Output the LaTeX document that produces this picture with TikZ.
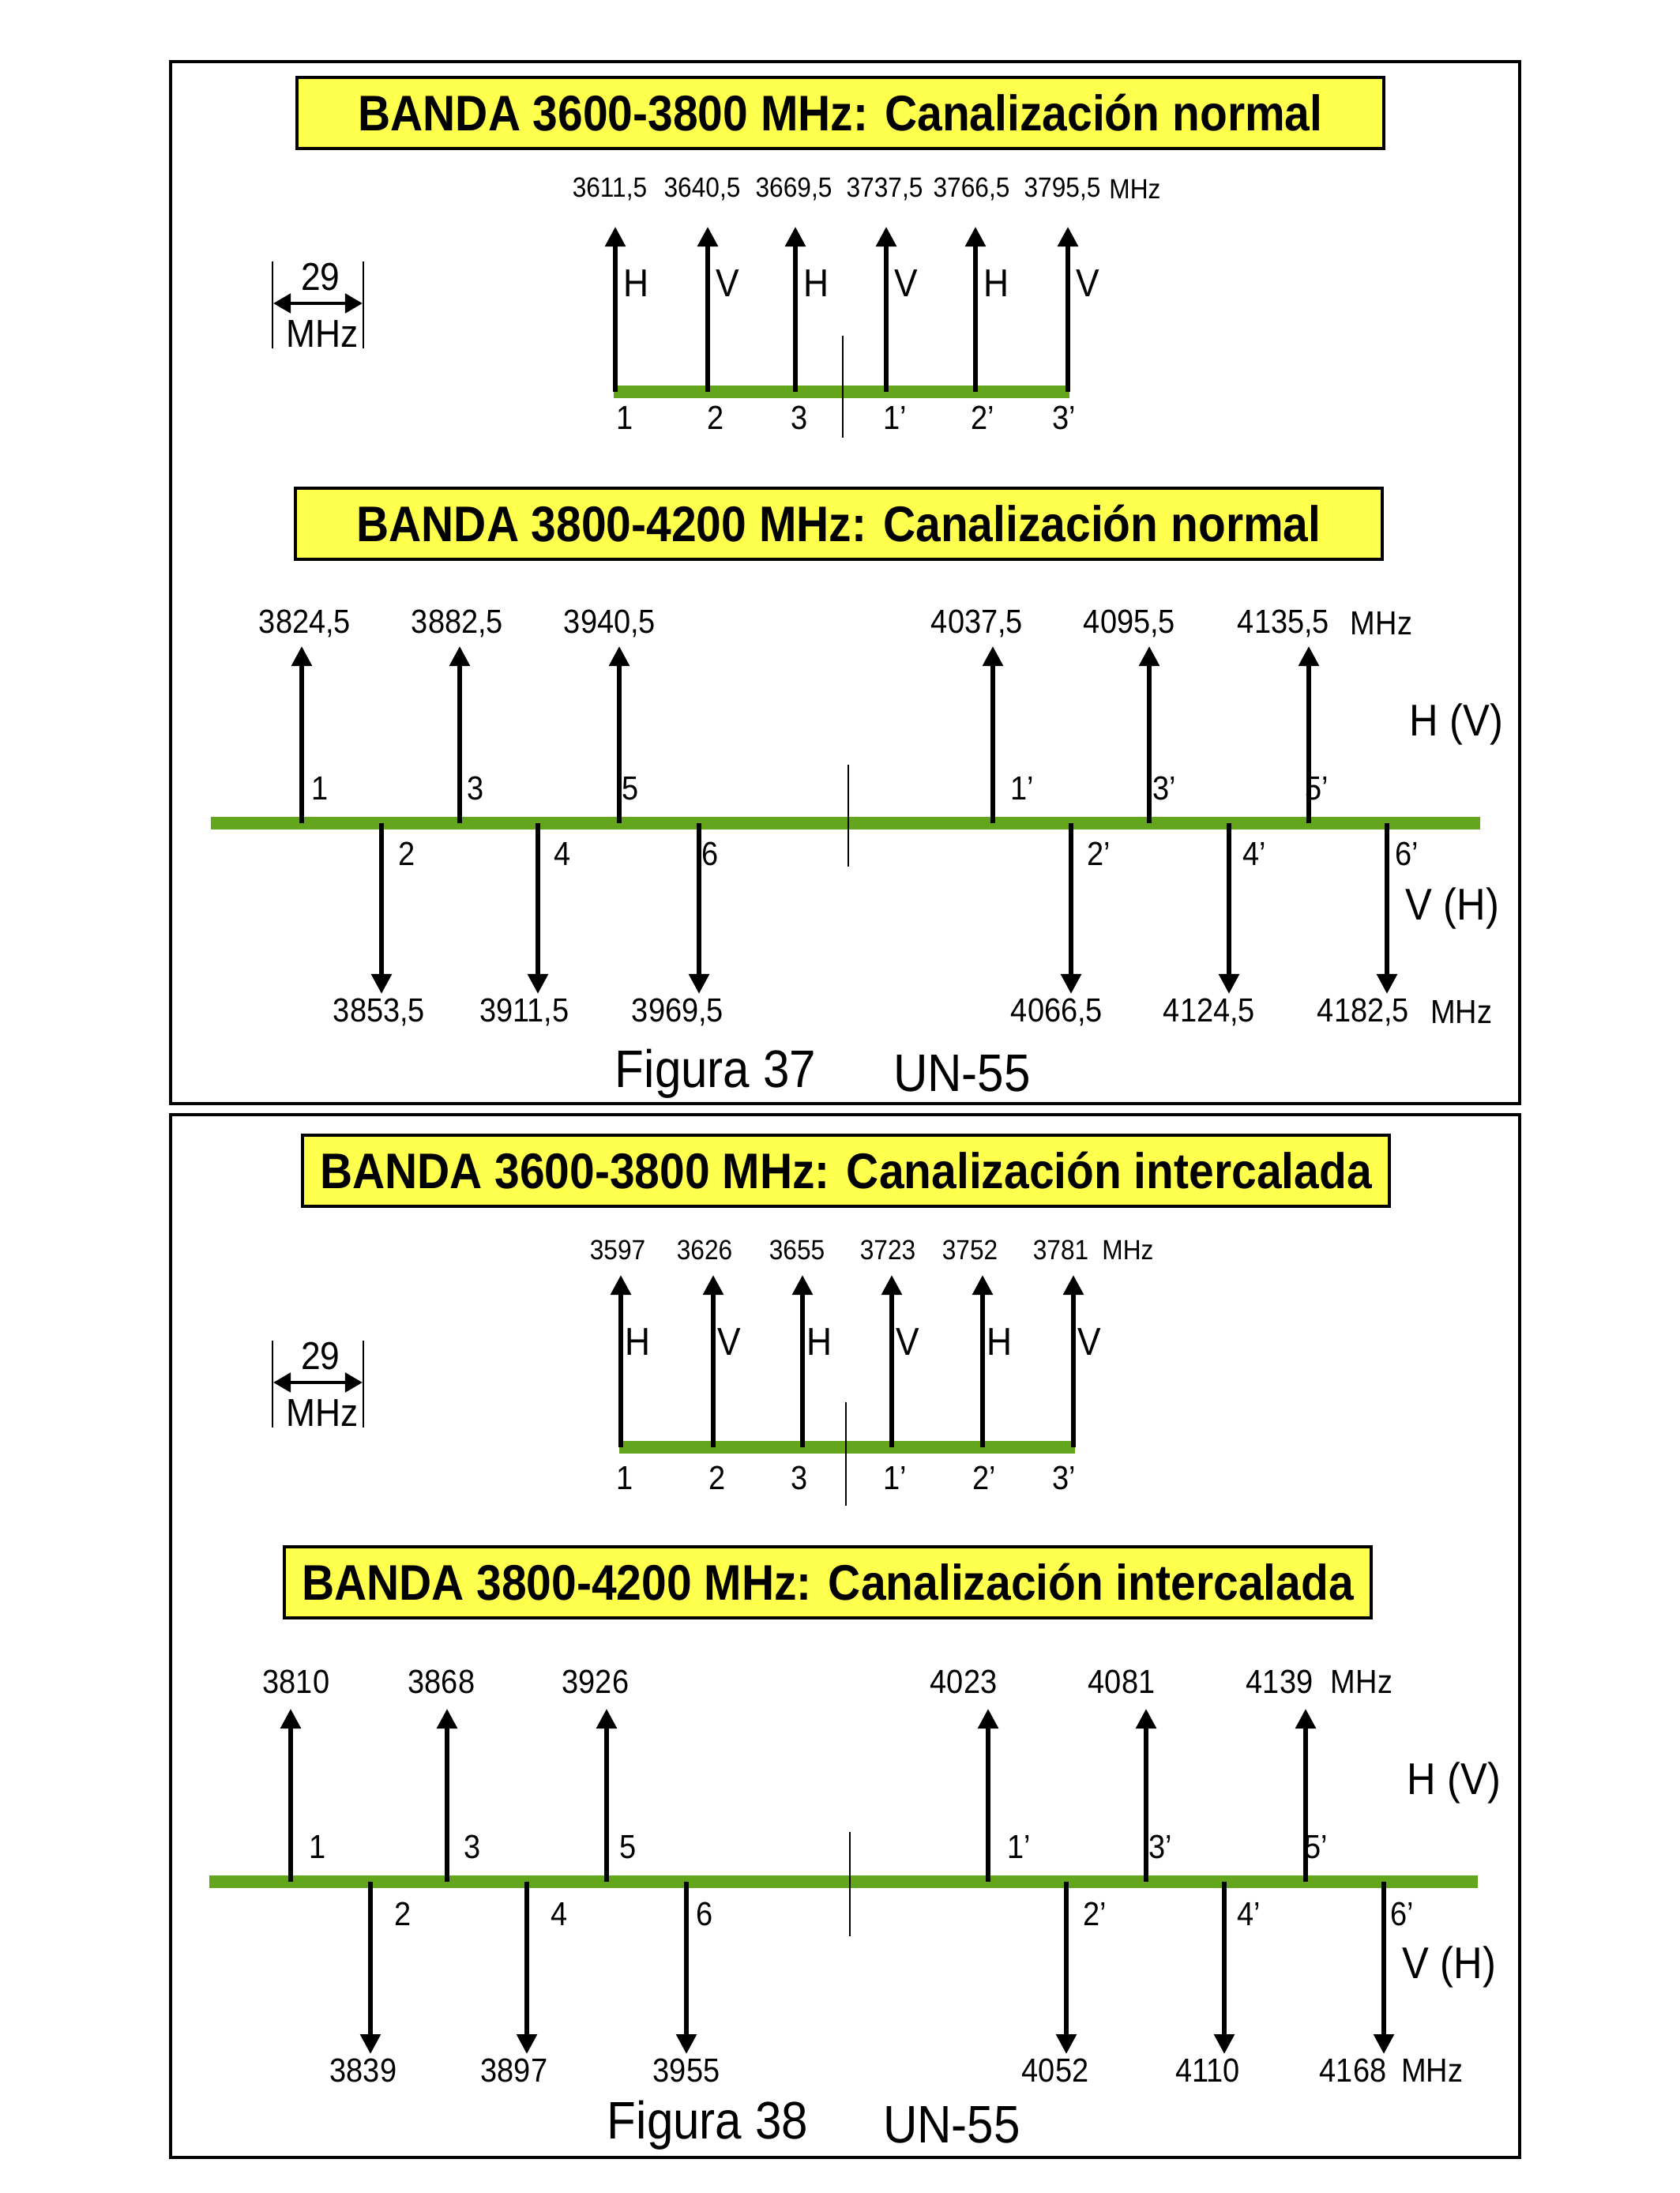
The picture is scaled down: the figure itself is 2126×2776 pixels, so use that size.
\documentclass[tikz,border=0pt]{standalone}
\usepackage{fontspec}
\setmainfont{Liberation Sans}
\usetikzlibrary{arrows.meta}

\begin{document}
\begin{tikzpicture}[x=0.01cm,y=-0.01cm,
  banner/.style={draw=black,line width=0.9pt,fill=bannerfill,minimum width=15.28cm,
    minimum height=0.9cm,inner sep=0pt,xscale=0.9,font=\bfseries\fontsize{18}{21}\selectfont},
  band/.style={draw=bandgreen,line width=1.6mm},
  sig/.style={line width=1.6pt,-{Triangle[length=2.5mm,width=2.5mm]}},
  span/.style={line width=1.4pt,{Triangle[length=2.2mm,width=2.4mm]}-{Triangle[length=2.2mm,width=2.4mm]}},
  divider/.style={line width=0.6pt},
  frame/.style={line width=0.9pt},
  lbl/.style={inner sep=0pt,xscale=0.9},
  freqA/.style={lbl,font=\fontsize{10}{12}\selectfont},
  freqB/.style={lbl,font=\fontsize{12}{14}\selectfont},
  pol/.style={lbl,anchor=west,font=\fontsize{14}{16}\selectfont},
  chan/.style={lbl,font=\fontsize{12}{14}\selectfont},
  sense/.style={lbl,font=\fontsize{16}{19}\selectfont},
  caption/.style={lbl,font=\fontsize{19}{22}\selectfont}]
  \definecolor{bandgreen}{HTML}{64A51E}
  \definecolor{bannerfill}{HTML}{FFFF4D}

  % frames
  \draw[frame] (216,78) rectangle (1924,1397);
  \draw[frame] (216,1411) rectangle (1924,2731);

  % titles
  \node[banner] (titleA) at (1064,143) {BANDA 3600-3800 MHz: Canalización normal};
  \node[banner] (titleB) at (1062,663) {BANDA 3800-4200 MHz: Canalización normal};
  \node[banner] (titleC) at (1071,1482) {BANDA 3600-3800 MHz: Canalización intercalada};
  \node[banner] (titleD) at (1048,2003) {BANDA 3800-4200 MHz: Canalización intercalada};

  % 29 MHz spacing marks
  \foreach \dy/\s in {0/A,1366/C}{
    \begin{scope}[shift={(0,\dy)}]
      \draw[divider] (345,331) -- (345,441);
      \draw[divider] (460,331) -- (460,441);
      \coordinate (\s sl) at (346,384);
      \coordinate (\s sr) at (459,384);
      \draw[span] (\s sl) -- (\s sr);
      \node[lbl,font=\fontsize{14}{16}\selectfont] (\s sv) at (406,351) {29};
      \node[lbl,font=\fontsize{14}{16}\selectfont] (\s su) at (408,423) {MHz};
    \end{scope}
  }

  % 3600-3800 normal
  \coordinate (bandAl) at (777,496);
  \coordinate (bandAr) at (1354,496);
  \draw[band] (bandAl) -- (bandAr);
  \foreach \x/\fx/\f/\p/\nx/\n [count=\i] in {779/772/{3611,5}/H/791/1, 896/889/{3640,5}/V/906/2,
      1007/1005/{3669,5}/H/1012/3, 1122/1120/{3737,5}/V/1133/1’, 1235/1230/{3766,5}/H/1244/2’,
      1352/1345/{3795,5}/V/1347/3’}{
    \coordinate (Ab\i) at (\x,496);
    \coordinate (At\i) at (\x,287);
    \draw[sig] (Ab\i) -- (At\i);
    \node[freqA] (Af\i) at (\fx,239) {\f};
    \node[pol] (Ap\i) at (\x+10,359) {\p};
    \node[chan] (An\i) at (\nx,529) {\n};
  }
  \node[freqA] (Amhz) at (1437,239) {MHz};
  \coordinate (Adt) at (1067,425);
  \coordinate (Adb) at (1067,554);
  \draw[divider] (Adt) -- (Adb);

  % 3800-4200 normal
  \coordinate (bandBl) at (267,1042);
  \coordinate (bandBr) at (1874,1042);
  \draw[band] (bandBl) -- (bandBr);
  \foreach \x/\fx/\f/\nx/\n [count=\i] in {382/386/{3824,5}/405/1, 582/579/{3882,5}/602/3,
      784/772/{3940,5}/798/5, 1257/1237/{4037,5}/1294/1’, 1455/1430/{4095,5}/1474/3’,
      1657/1625/{4135,5}/1667/5’}{
    \coordinate (Bu\i) at (\x,1042);
    \coordinate (But\i) at (\x,818);
    \draw[sig] (Bu\i) -- (But\i);
    \node[freqB] (Buf\i) at (\fx,789) {\f};
    \node[chan] (Bun\i) at (\nx,998) {\n};
  }
  \foreach \x/\fx/\f/\nx/\n [count=\i] in {483/480/{3853,5}/515/2, 681/664/{3911,5}/712/4,
      885/858/{3969,5}/899/6, 1356/1338/{4066,5}/1391/2’, 1556/1531/{4124,5}/1588/4’,
      1756/1726/{4182,5}/1781/6’}{
    \coordinate (Bd\i) at (\x,1042);
    \coordinate (Bdt\i) at (\x,1258);
    \draw[sig] (Bd\i) -- (Bdt\i);
    \node[freqB] (Bdf\i) at (\fx,1281) {\f};
    \node[chan] (Bdn\i) at (\nx,1081) {\n};
  }
  \node[freqB] (Bumhz) at (1749,789) {MHz};
  \node[freqB] (Bdmhz) at (1850,1281) {MHz};
  \coordinate (Bdvt) at (1074,968);
  \coordinate (Bdvb) at (1074,1097);
  \draw[divider] (Bdvt) -- (Bdvb);
  \node[sense] (Bhv) at (1844,917) {H (V)};
  \node[sense] (Bvh) at (1839,1150) {V (H)};
  \node[caption] (Bfig) at (906,1359) {Figura 37};
  \node[caption] (Bref) at (1218,1359) {UN-55};

  % 3600-3800 intercalada
  \coordinate (bandCl) at (784,1832);
  \coordinate (bandCr) at (1361,1832);
  \draw[band] (bandCl) -- (bandCr);
  \foreach \x/\fx/\f/\p/\nx/\n [count=\i] in {786/782/3597/H/791/1, 903/892/3626/V/908/2,
      1016/1009/3655/H/1012/3, 1129/1124/3723/V/1133/1’, 1244/1228/3752/H/1246/2’,
      1359/1343/3781/V/1347/3’}{
    \coordinate (Cb\i) at (\x,1832);
    \coordinate (Ct\i) at (\x,1614);
    \draw[sig] (Cb\i) -- (Ct\i);
    \node[freqA] (Cf\i) at (\fx,1582) {\f};
    \node[pol] (Cp\i) at (\x+5,1699) {\p};
    \node[chan] (Cn\i) at (\nx,1871) {\n};
  }
  \node[freqA] (Cmhz) at (1428,1582) {MHz};
  \coordinate (Cdt) at (1071,1775);
  \coordinate (Cdb) at (1071,1906);
  \draw[divider] (Cdt) -- (Cdb);

  % 3800-4200 intercalada
  \coordinate (bandDl) at (265,2382);
  \coordinate (bandDr) at (1871,2382);
  \draw[band] (bandDl) -- (bandDr);
  \foreach \x/\fx/\f/\nx/\n [count=\i] in {368/375/3810/402/1, 566/559/3868/598/3,
      768/754/3926/795/5, 1251/1220/4023/1290/1’, 1451/1420/4081/1469/3’,
      1653/1620/4139/1666/5’}{
    \coordinate (Du\i) at (\x,2382);
    \coordinate (Dut\i) at (\x,2163);
    \draw[sig] (Du\i) -- (Dut\i);
    \node[freqB] (Duf\i) at (\fx,2129) {\f};
    \node[chan] (Dun\i) at (\nx,2338) {\n};
  }
  \foreach \x/\fx/\f/\nx/\n [count=\i] in {469/460/3839/510/2, 667/651/3897/708/4,
      869/869/3955/892/6, 1350/1336/4052/1386/2’, 1550/1529/4110/1581/4’,
      1752/1713/4168/1775/6’}{
    \coordinate (Dd\i) at (\x,2382);
    \coordinate (Ddt\i) at (\x,2600);
    \draw[sig] (Dd\i) -- (Ddt\i);
    \node[freqB] (Ddf\i) at (\fx,2621) {\f};
    \node[chan] (Ddn\i) at (\nx,2423) {\n};
  }
  \node[freqB] (Dumhz) at (1724,2129) {MHz};
  \node[freqB] (Ddmhz) at (1813,2621) {MHz};
  \coordinate (Ddvt) at (1076,2319);
  \coordinate (Ddvb) at (1076,2451);
  \draw[divider] (Ddvt) -- (Ddvb);
  \node[sense] (Dhv) at (1841,2257) {H (V)};
  \node[sense] (Dvh) at (1835,2490) {V (H)};
  \node[caption] (Dfig) at (896,2690) {Figura 38};
  \node[caption] (Dref) at (1205,2690) {UN-55};

  \path[use as bounding box] (0,0) rectangle (2126,2776);
\end{tikzpicture}
\end{document}
